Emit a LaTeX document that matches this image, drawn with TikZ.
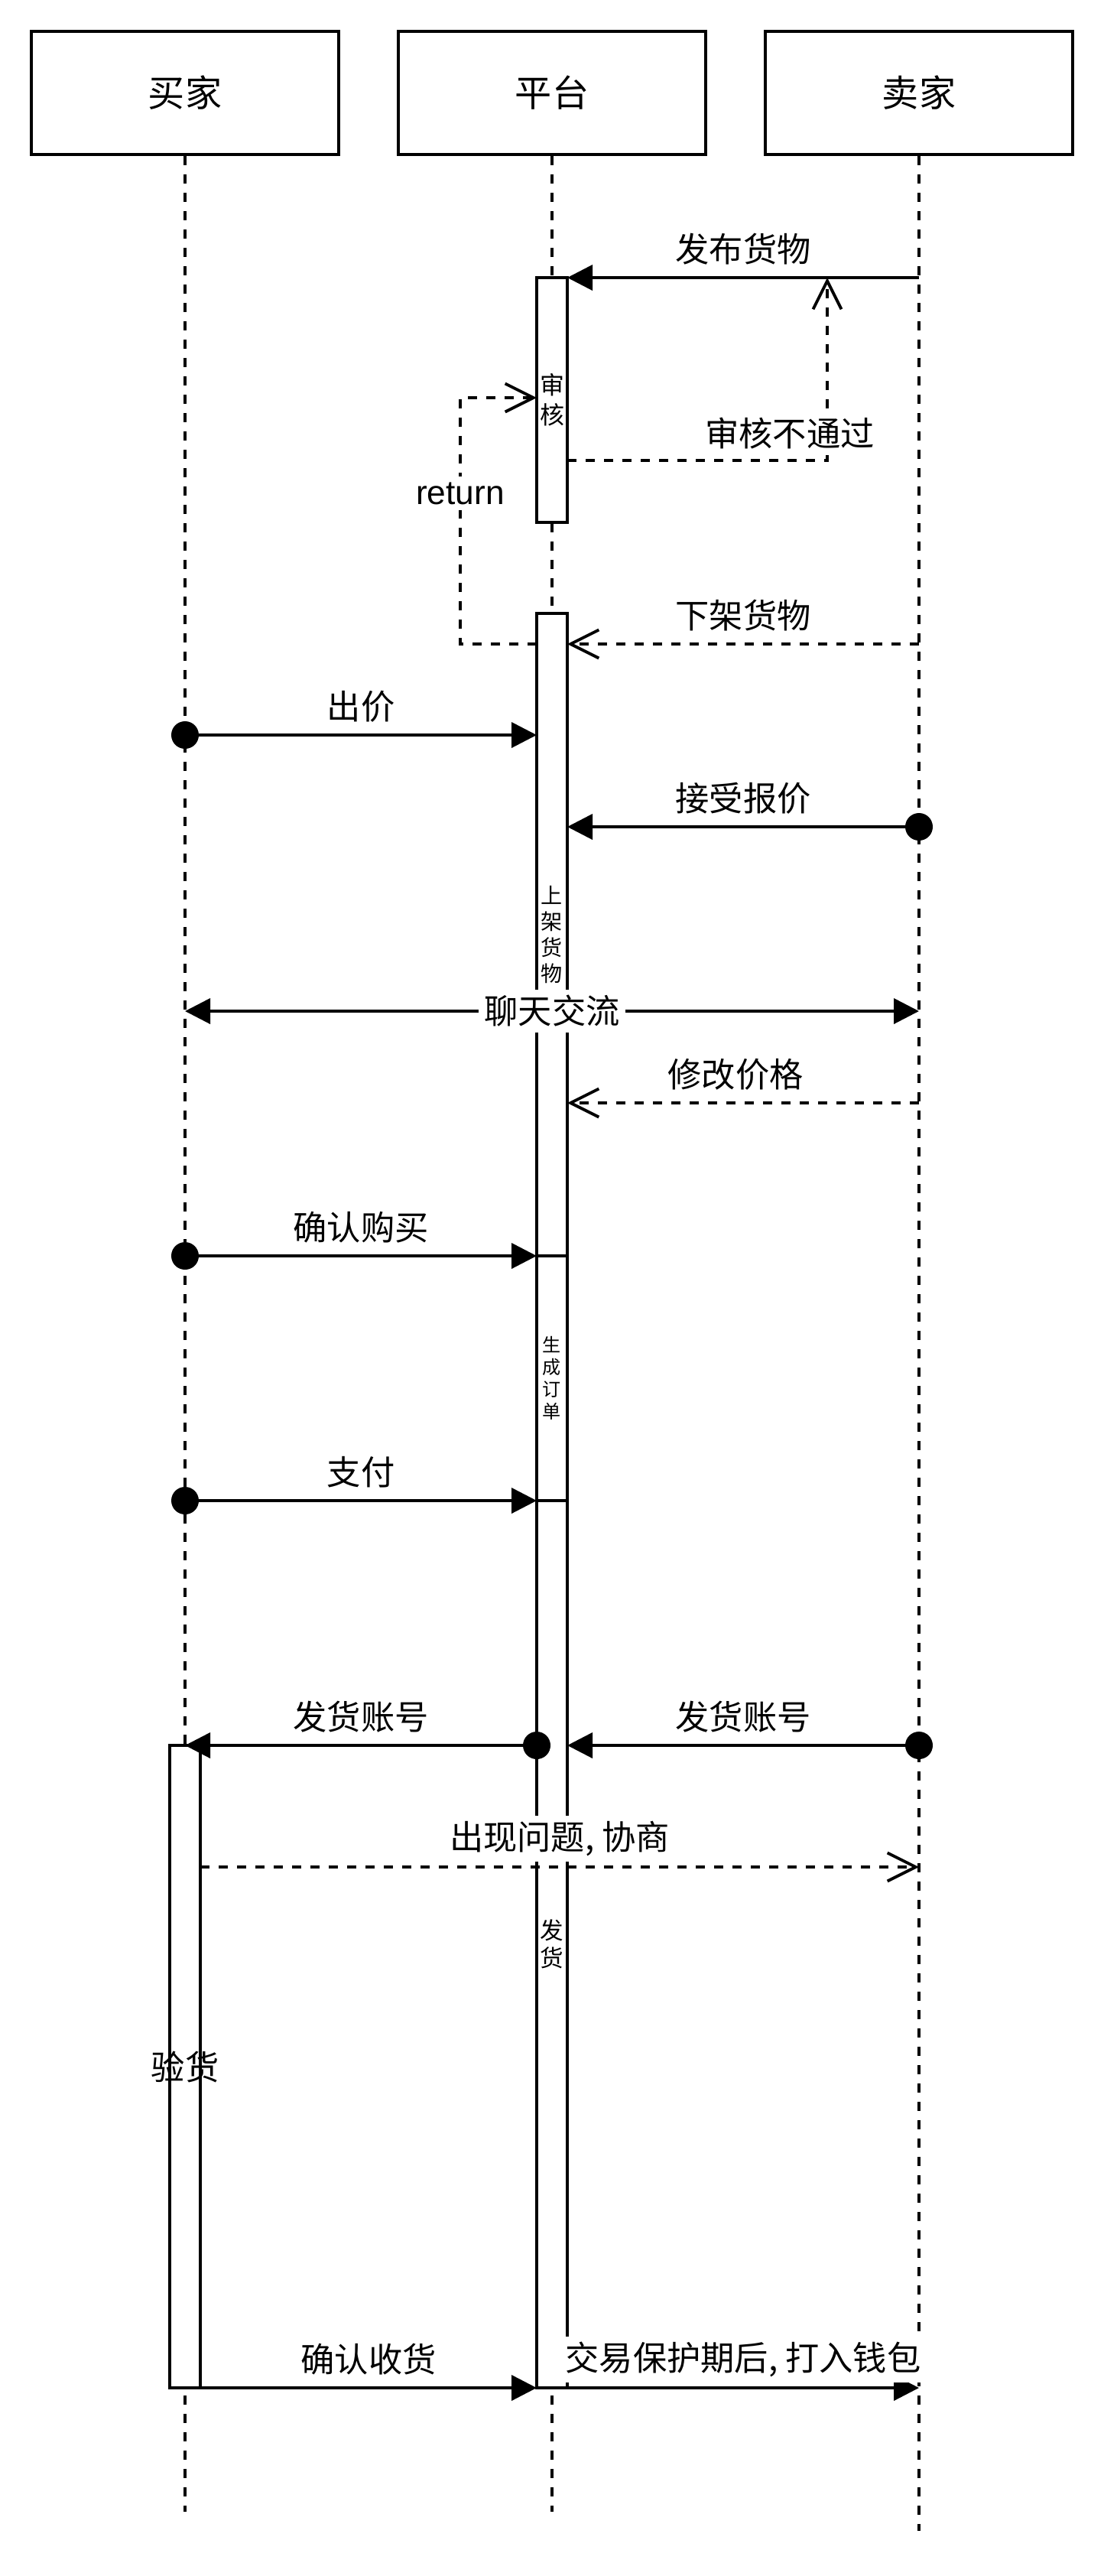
\documentclass[tikz,border=0pt]{standalone}
\usepackage{fontspec}
\setmainfont{Noto Sans CJK SC}
\newfontfamily\latinfont{Liberation Sans}
\usetikzlibrary{
  arrows.meta,
  positioning,
  calc
}
\definecolor{seqInk}{HTML}{000000}
\definecolor{seqPaper}{HTML}{FFFFFF}
\newcommand{\titlefont}{\fontsize{13.7}{16}\selectfont}
\newcommand{\msgfont}{\fontsize{12.6}{15}\selectfont}
\tikzset{
  actor/.style={
    draw=seqInk, fill=seqPaper, minimum width=4.02cm, minimum height=1.61cm,
    font=\titlefont, inner sep=0pt
  },
  lifeline/.style={draw=seqInk, dash pattern=on 0.12cm off 0.12cm},
  activation/.style={
    draw=seqInk, fill=seqPaper, minimum width=0.4cm, inner sep=0pt,
    outer sep=0pt, align=center
  },
  call/.style={-{Triangle[length=0.33cm, width=0.33cm]}, seqInk},
  duplex/.style={{Triangle[length=0.33cm, width=0.33cm]}-{Triangle[length=0.33cm, width=0.33cm]}, seqInk},
  reply/.style={-{Straight Barb[length=0.37cm, width=0.37cm]}, seqInk, dash pattern=on 0.12cm off 0.12cm},
  msglabel/.style={font=\msgfont, fill=seqPaper, inner xsep=2pt, inner ysep=2pt},
  above msg/.style={msglabel, yshift=0.37cm},
  msgdot/.style={fill=seqInk}
}

\begin{document}
\begin{tikzpicture}[line width=1.1pt]
  \useasboundingbox (0,0) rectangle (14.44,-33.68);

  % heads and lifelines
  \node[actor] (buyer) at (2.42,-1.215) {买家};
  \node[actor] (platform) at (7.22,-1.215) {平台};
  \node[actor] (seller) at (12.02,-1.215) {卖家};
  \coordinate (buyerEnd) at (2.42,-32.84);
  \coordinate (platformEnd) at (7.22,-32.84);
  \coordinate (sellerEnd) at (12.02,-33.09);
  \draw[lifeline] (buyer) -- (buyerEnd);
  \draw[lifeline] (platform) -- (platformEnd);
  \draw[lifeline] (seller) -- (sellerEnd);

  % activations
  \node[activation, minimum height=3.2cm, font=\fontsize{9.1}{11}\selectfont]
    (check) at (7.22,-5.23) {审\\核};
  \node[activation, minimum height=8.4cm, font=\fontsize{8}{9.6}\selectfont]
    (listing) at (7.22,-12.22) {上\\架\\货\\物};
  \node[activation, minimum height=3.2cm, font=\fontsize{6.85}{8.2}\selectfont, below=0pt of listing]
    (order) {生\\成\\订\\单};
  \node[activation, minimum height=11.6cm, font=\fontsize{8.7}{10.4}\selectfont, below=0pt of order]
    (ship) {发\\货};
  \node[activation, minimum height=8.4cm] (inspect) at (2.42,-27.02) {};
  \node[font=\msgfont] (inspectText) at (inspect) {验货};

  % publishing and review
  \draw[call] (seller |- check.north) -- node[above msg] (publishText) {发布货物} (check.north east);
  \coordinate (rejectTurn) at (10.82,-6.02);
  \draw[reply] (check.east |- rejectTurn) -- node[msglabel, pos=0.856, yshift=0.35cm] (rejectText) {审核不通过}
    (rejectTurn) -- (rejectTurn |- check.north);
  \coordinate (retLow) at (6.02,-8.42);
  \coordinate (retHigh) at (6.02,-5.20);
  \draw[reply] (listing.west |- retLow) -- (retLow)
    -- node[msglabel, pos=0.612, font=\latinfont\msgfont] (returnText) {return} (retHigh)
    -- (check.west |- retHigh);
  \draw[reply] (seller |- retLow) -- node[above msg] (delistText) {下架货物} (listing.east |- retLow);

  % bargaining
  \coordinate (bid) at (2.42,-9.61);
  \draw[call] (bid) -- node[above msg] (bidText) {出价} (listing.west |- bid);
  \fill[msgdot] (bid) circle[radius=0.18cm];
  \coordinate (accept) at (12.02,-10.81);
  \draw[call] (accept) -- node[above msg] (acceptText) {接受报价} (listing.east |- accept);
  \fill[msgdot] (accept) circle[radius=0.18cm];
  \coordinate (chat) at (7.22,-13.22);
  \draw[duplex] (buyer |- chat) -- node[msglabel] (chatText) {聊天交流} (seller |- chat);
  \coordinate (reprice) at (12.02,-14.42);
  \draw[reply] (reprice) -- node[above msg, xshift=-0.1cm] (repriceText) {修改价格} (listing.east |- reprice);

  % order and payment
  \coordinate (buy) at (2.42,-16.42);
  \draw[call] (buy) -- node[above msg] (buyText) {确认购买} (order.north west);
  \fill[msgdot] (buy) circle[radius=0.18cm];
  \coordinate (pay) at (2.42,-19.62);
  \draw[call] (pay) -- node[above msg] (payText) {支付} (ship.north west);
  \fill[msgdot] (pay) circle[radius=0.18cm];

  % delivery
  \coordinate (acctP) at (7.02,-22.82);
  \coordinate (acctS) at (12.02,-22.82);
  \draw[call] (acctP) -- node[above msg] (acctLeftText) {发货账号} (inspect.north);
  \fill[msgdot] (acctP) circle[radius=0.18cm];
  \draw[call] (acctS) -- node[above msg] (acctRightText) {发货账号} (ship.east |- acctS);
  \fill[msgdot] (acctS) circle[radius=0.18cm];
  \coordinate (issue) at (12.02,-24.41);
  \draw[reply] (inspect.east |- issue) -- node[above msg] (issueText) {出现问题, 协商} (issue);
  \draw[call] (inspect.south east) -- node[above msg] (receiveText) {确认收货} (ship.south west);
  \draw[call] (ship.south east) -- node[above msg] (payoutText) {交易保护期后, 打入钱包} (seller |- ship.south);
\end{tikzpicture}
\end{document}
